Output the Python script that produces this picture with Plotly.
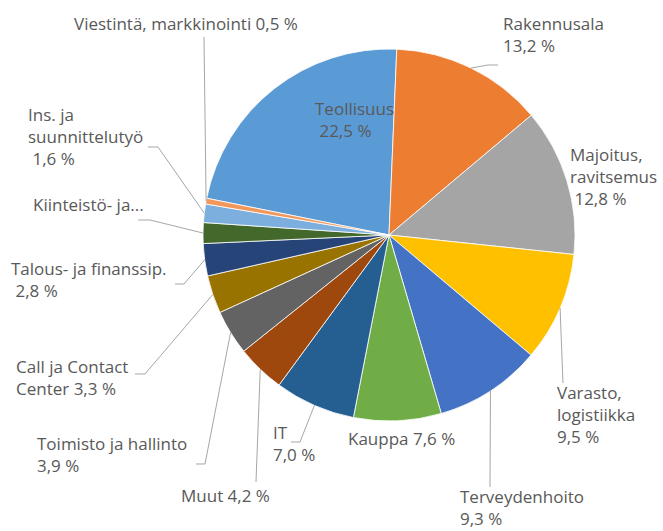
import math
import plotly.graph_objects as go

# ---- data ----
categories = ["Teollisuus", "Rakennusala", "Majoitus, ravitsemus", "Varasto, logistiikka",
              "Terveydenhoito", "Kauppa", "IT", "Muut", "Toimisto ja hallinto",
              "Call ja Contact Center", "Talous- ja finanssip.", "Kiinteistö- ja...",
              "Ins. ja suunnittelutyö", "Viestintä, markkinointi"]
values = [22.5, 13.2, 12.8, 9.5, 9.3, 7.6, 7.0, 4.2, 3.9, 3.3, 2.8, 1.8, 1.6, 0.5]
label_texts = ["Teollisuus<br>\u00a022,5 %", "Rakennusala<br>13,2 %",
               "Majoitus,<br>ravitsemus<br>\u00a012,8 %", "Varasto,<br>logistiikka<br>9,5 %",
               "Terveydenhoito<br>9,3 %", "Kauppa 7,6 %", "IT<br>7,0 %", "Muut 4,2 %",
               "Toimisto ja hallinto<br>3,9 %", "Call ja Contact<br>Center 3,3 %",
               "Talous- ja finanssip.<br>\u00a02,8 %", "Kiinteistö- ja...",
               "Ins. ja<br>suunnittelutyö<br>\u00a01,6 %", "Viestintä, markkinointi 0,5 %"]

colors = ["#5B9BD5", "#ED7D31", "#A5A5A5", "#FFC000", "#4472C4", "#70AD47", "#255E91",
          "#9E480E", "#636363", "#997300", "#264478", "#43682B", "#7CAFDD", "#F1975A"]

# ---- layout constants (pixels) ----
W, H = 663, 531
CX, CY, R = 389, 235, 186
ROT = -78.6  # start angle of first slice (deg clockwise from 12 o'clock)

# label anchor (left x, middle y) and leader-line knee points
label_pos = [(313, 119), (501, 34), (568, 176), (555, 414), (458, 507), (346, 438),
             (271, 443), (179, 495), (35, 454), (14, 377), (9, 279), (31, 204),
             (26, 136), (72, 23)]
leaders = [None, [(498, 65), (488, 65)], None, [(563, 383)], [(490, 487)], None,
           [(291, 442), (300, 442)], [(256, 482)], [(196, 464), (205, 464)],
           [(135, 374), (145, 374)], [(175, 284), (184, 284)], [(138, 220), (150, 220)],
           [(148, 147), (158, 147)], [(204, 37)]]


def px(x):
    return x / W


def py(y):
    return 1 - y / H


fig = go.Figure(go.Pie(
    labels=categories, values=values, sort=False, direction="clockwise",
    rotation=ROT, marker=dict(colors=colors, line=dict(color="white", width=0.8)),
    textinfo="none", hoverinfo="label+percent", showlegend=False,
    domain=dict(x=[px(CX - R), px(CX + R)], y=[py(CY + R), py(CY - R)]),
))

total = sum(values)
cum = 0.0
shapes = []
annotations = []
for i, v in enumerate(values):
    mid = ROT + (cum + v / 2) / total * 360
    cum += v
    ex = CX + R * math.sin(math.radians(mid))
    ey = CY - R * math.cos(math.radians(mid))
    if leaders[i]:
        pts = leaders[i] + [(ex, ey)]
        path = "M " + " L ".join(f"{px(x):.5f},{py(y):.5f}" for x, y in pts)
        shapes.append(dict(type="path", path=path, xref="paper", yref="paper",
                           line=dict(color="#A6A6A6", width=1)))
    lx, ly = label_pos[i]
    annotations.append(dict(text=label_texts[i], x=px(lx), y=py(ly), xref="paper", yref="paper",
                            xanchor="left", yanchor="middle", align="left", showarrow=False,
                            font=dict(family="Open Sans, sans-serif", size=17, color="#595959")))

fig.update_layout(width=W, height=H, margin=dict(l=0, r=0, t=0, b=0),
                  paper_bgcolor="white", plot_bgcolor="white",
                  shapes=shapes, annotations=annotations)
fig.write_html("out.html", config={"displayModeBar": False},
               post_script="document.body.style.margin='0';")
